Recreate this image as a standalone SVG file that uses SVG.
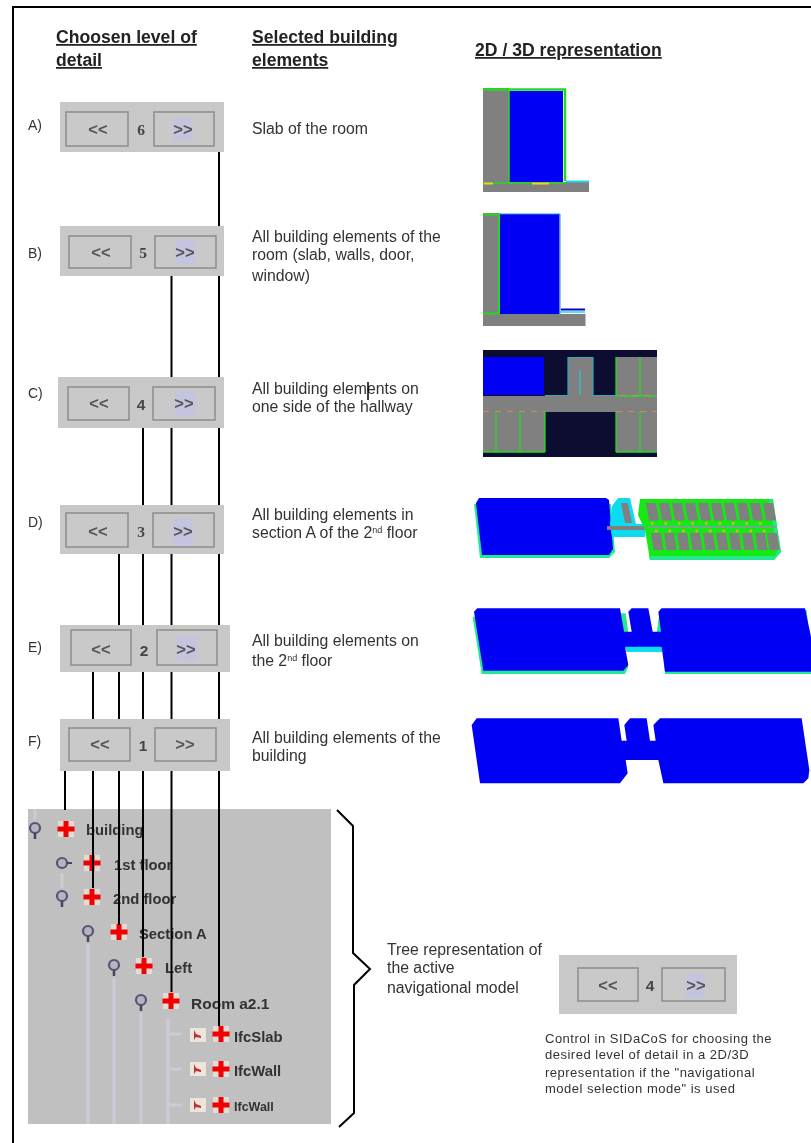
<svg xmlns="http://www.w3.org/2000/svg" width="811" height="1143" viewBox="0 0 811 1143">
<style>
text{font-family:"Liberation Sans",Arial,sans-serif;fill:#333}
.h{font-size:17.600px;font-weight:bold;fill:#222;text-decoration:underline}
.b{font-size:15.800px}
.s{font-size:13px;letter-spacing:.5px}
.l{font-size:14px}
.n{font-size:15.500px;font-weight:bold;fill:#444;text-anchor:middle}
.a{font-size:16.500px;font-weight:bold;fill:#555;text-anchor:middle}
.t{font-size:14.800px;font-weight:bold;fill:#333}
.panel{fill:#c8c8c8}
.btn{fill:#c9c9c9;stroke:#8c8c8c;stroke-width:1.500}
.foc{fill:#c4c4de}
.con{stroke:#000;stroke-width:2;fill:none}
.br{stroke:#000;stroke-width:2;fill:none}
.blue{fill:#0000f5}
.grey{fill:#808080}
.green{stroke:#1fdc1f;fill:none}
.tl{stroke:#cbcbd8;stroke-width:3;fill:none}
.pin{stroke:#55556e;stroke-width:2.200;fill:#b4b4c4}
</style>
<defs>
<filter id="soft" x="-2%" y="-2%" width="104%" height="104%"><feGaussianBlur stdDeviation="0.7"/></filter>
<g id="cross"><rect x="-8" y="-8" width="16" height="16" fill="#e4dcd4"/><path d="M-2.500-8h5v5.500h6v5h-6v5.500h-5v-5.500h-6v-5h6z" fill="#f00000"/></g>
<g id="icon"><rect x="-8" y="-7" width="16" height="14" fill="#eee4dc"/><path d="M-4-5l2 4 5 2v2l-5-1-2 3z" fill="#b83030"/></g>
<g id="pin"><circle r="5" cy="-1" class="pin"/><path d="M0 4v6" stroke="#45455e" stroke-width="2.500"/></g>
<path id="gu" d="M0 0h10l3 17.500h-10z" fill="#808080"/>
<path id="gl" d="M0 0h10l2.500 17h-10z" fill="#808080"/>
</defs>
<g filter="url(#soft)">
<path id="frame" d="M13 1143V7H811" fill="none" stroke="#000" stroke-width="2"/>
<g id="headings">
<text class="h" x="56" y="43">Choosen level of</text>
<text class="h" x="56" y="66">detail</text>
<text class="h" x="252" y="43">Selected building</text>
<text class="h" x="252" y="66">elements</text>
<text class="h" x="475" y="56">2D / 3D representation</text>
</g>
<g id="node-a">
<text class="l" x="28" y="130">A)</text>
<rect class="panel" x="60" y="102" width="164" height="50"/>
<rect class="btn" x="66" y="112" width="62" height="34"/><rect class="btn" x="154" y="112" width="60" height="34"/>
<rect class="foc" x="173" y="118" width="20" height="23"/>
<text class="a" x="98" y="135">&lt;&lt;</text><text class="n" x="141" y="135" style="font-family:'Liberation Serif',serif">6</text><text class="a" x="183" y="135">&gt;&gt;</text>
<text class="b" x="252" y="134">Slab of the room</text>
<rect class="grey" x="483" y="88" width="26" height="104"/><rect class="grey" x="483" y="182" width="106" height="10"/>
<rect class="blue" x="509" y="91" width="54" height="91"/>
<path class="green" stroke-width="2.500" d="M483 89.500H565V181"/><path class="green" stroke-width="1.500" d="M509 91V183M483 183H566"/>
<path stroke="#f0d020" stroke-width="2" d="M484 183.500h9M532 183.500h17"/>
<path stroke="#20d8e8" stroke-width="2" d="M566 181.500h23"/>
</g>
<g id="node-b">
<text class="l" x="28" y="258">B)</text>
<rect class="panel" x="60" y="226" width="164" height="50"/>
<rect class="btn" x="69" y="236" width="62" height="32"/><rect class="btn" x="155" y="236" width="61" height="32"/>
<rect class="foc" x="176" y="240" width="19" height="24"/>
<text class="a" x="101" y="258">&lt;&lt;</text><text class="n" x="143" y="258" style="font-family:'Liberation Serif',serif">5</text><text class="a" x="185" y="258">&gt;&gt;</text>
<text class="b" x="252" y="242">All building elements of the</text>
<text class="b" x="252" y="260">room (slab, walls, door,</text>
<text class="b" x="252" y="281">window)</text>
<rect class="grey" x="483" y="213" width="16" height="113"/><rect class="grey" x="483" y="314" width="102.500" height="12"/>
<rect class="blue" x="499" y="214" width="60.500" height="100"/>
<path class="green" stroke-width="2" d="M483 214.500H499V314M483 313.500H500"/>
<path d="M499 214H560V314" fill="none" stroke="#2090d8" stroke-width="1"/>
<path stroke="#0000d0" stroke-width="2" d="M561 309.500h24"/><path stroke="#20d8e8" stroke-width="1.500" d="M560 312h25"/>
</g>
<g id="node-c">
<text class="l" x="28" y="398">C)</text>
<rect class="panel" x="58" y="377" width="166" height="51"/>
<rect class="btn" x="68" y="387" width="61" height="33"/><rect class="btn" x="153" y="387" width="62" height="33"/>
<rect class="foc" x="175" y="391" width="20" height="25"/>
<text class="a" x="99" y="409">&lt;&lt;</text><text class="n" x="141" y="410">4</text><text class="a" x="184" y="409">&gt;&gt;</text>
<text class="b" x="252" y="394">All building elements on</text>
<text class="b" x="252" y="412">one side of the hallway</text>
<path d="M368 382V400" stroke="#000" stroke-width="1.500"/>
<rect x="483" y="350" width="174" height="107" fill="#0b0c30"/>
<rect class="blue" x="483" y="357" width="61" height="38"/>
<path class="grey" d="M483 396H568V357H593V396H616V357H657V452H616V412H545V452H483Z"/>
<path d="M545 395.500H568V357.500H593V395.500H616" fill="none" stroke="#30a8b8" stroke-width="1.200"/>
<path class="green" stroke-width="1.300" d="M640 357V396M616 357V396M616 396H657M496 412V452M520 412V452M545 412V452M616 412V452M640 412V452M483 452H545M616 452H657"/>
<path stroke="#28c8d8" stroke-width="1.200" d="M580 370V395"/>
<path stroke="#c89048" stroke-width="1" stroke-dasharray="6 6" d="M483 411.500H545M616 411.500H657M620 395.500H657"/>
</g>
<g id="node-d">
<text class="l" x="28" y="527">D)</text>
<rect class="panel" x="60" y="505" width="164" height="49"/>
<rect class="btn" x="66" y="513" width="62" height="34"/><rect class="btn" x="153" y="513" width="61" height="34"/>
<rect class="foc" x="173" y="518" width="20" height="28"/>
<text class="a" x="98" y="537">&lt;&lt;</text><text class="n" x="141" y="537" style="font-family:'Liberation Serif',serif">3</text><text class="a" x="183" y="537">&gt;&gt;</text>
<text class="b" x="252" y="520">All building elements in</text>
<text class="b" x="252" y="538">section A of the 2<tspan font-size="9" dy="-5">nd</tspan><tspan dy="5"> floor</tspan></text>
<path d="M474 504L480 558H609L615 552L611 504Z" fill="#20e890"/>
<path class="blue" d="M476 503L479 498H606L609 500L613 549L609 555H482Z"/>
<path d="M610 524H645V537H612Z" fill="#10dcf0"/>
<path d="M612 506L618 498H630L636 524H610Z" fill="#10dcf0"/>
<path d="M621 503H628L632 523H625Z" fill="#808080"/>
<path d="M607 526H648V530H607Z" fill="#808080"/>
<path d="M640 499H773L781 552L774 560H650L645 530L638 515Z" fill="#14e814"/>
<path d="M772 499L781 552L774 560H650L649 556H775L777 552L769 499Z" fill="#20e890"/>
<use href="#gu" x="646" y="503"/><use href="#gu" x="659" y="503"/><use href="#gu" x="672" y="503"/><use href="#gu" x="685" y="503"/><use href="#gu" x="698" y="503"/><use href="#gu" x="711" y="503"/><use href="#gu" x="724" y="503"/><use href="#gu" x="737" y="503"/><use href="#gu" x="750" y="503"/><use href="#gu" x="763" y="503"/>
<use href="#gl" x="651" y="533"/><use href="#gl" x="664" y="533"/><use href="#gl" x="677" y="533"/><use href="#gl" x="690" y="533"/><use href="#gl" x="703" y="533"/><use href="#gl" x="716" y="533"/><use href="#gl" x="729" y="533"/><use href="#gl" x="742" y="533"/><use href="#gl" x="755" y="533"/><use href="#gl" x="767" y="533"/>
<path d="M648 527H776" stroke="#70a890" stroke-width="2"/>
<path stroke="#e8b020" stroke-width="2.500" stroke-dasharray="2.500 11" d="M651 523.500H772M655 531H776"/>
</g>
<g id="node-e">
<text class="l" x="28" y="652">E)</text>
<rect class="panel" x="60" y="625" width="170" height="47"/>
<rect class="btn" x="71" y="630" width="60" height="35"/><rect class="btn" x="157" y="630" width="60" height="35"/>
<rect class="foc" x="177" y="636" width="20" height="25"/>
<text class="a" x="101" y="655">&lt;&lt;</text><text class="n" x="144" y="656">2</text><text class="a" x="186" y="655">&gt;&gt;</text>
<text class="b" x="252" y="646">All building elements on</text>
<text class="b" x="252" y="666">the 2<tspan font-size="9" dy="-5">nd</tspan><tspan dy="5"> floor</tspan></text>
<g transform="translate(460 480) scale(.33333)">
<path d="M38 410L65 582H495L505 560L490 505H610L615 582H1053V530L1040 390H600L590 458H505L497 400Z" fill="#20e890"/>
<path d="M495 498H610V516H500Z" fill="#10dcf0"/>
<path class="blue" d="M42 395L52 385H480L492 455H515L505 395L515 385H565L578 455H603L595 395L605 385H1035L1053 470V575H615L605 500H495L505 555L490 572H70Z"/>
</g>
</g>
<g id="node-f">
<text class="l" x="28" y="746">F)</text>
<rect class="panel" x="60" y="719" width="170" height="52"/>
<rect class="btn" x="69" y="728" width="61" height="33"/><rect class="btn" x="155" y="728" width="61" height="33"/>
<text class="a" x="100" y="750">&lt;&lt;</text><text class="n" x="143" y="751">1</text><text class="a" x="185" y="750">&gt;&gt;</text>
<text class="b" x="252" y="743">All building elements of the</text>
<text class="b" x="252" y="761">building</text>
<g transform="translate(465 700) scale(.33333)">
<path class="blue" d="M20 75L35 55H460L470 122H485L478 75L495 55H545L555 122H572L565 75L585 55H1010L1033 210L1030 235L1015 250H595L580 180H482L488 220L465 250H45Z"/>
</g>
</g>
<g id="tree">
<rect x="28" y="809" width="303" height="315" fill="#c0c0c0"/>
<path class="tl" d="M35 809V820M62 873V888M88 944V1124M114 978V1124M141 1013V1124M168 1018V1124M168 1034H182M168 1069H182M168 1105H182"/>
<use href="#pin" x="35" y="829"/><use href="#pin" x="88" y="932"/><use href="#pin" x="62" y="897"/><use href="#pin" x="114" y="966"/><use href="#pin" x="141" y="1001"/>
<g><circle cx="62" cy="863" r="5" class="pin"/><path d="M67 863h5" stroke="#45455e" stroke-width="2"/></g>
<use href="#cross" x="66" y="829"/><use href="#cross" x="92" y="863"/><use href="#cross" x="92" y="897"/><use href="#cross" x="119" y="932"/><use href="#cross" x="144" y="966"/><use href="#cross" x="171" y="1001"/>
<use href="#icon" x="198" y="1035"/><use href="#icon" x="198" y="1069"/><use href="#icon" x="198" y="1105"/>
<use href="#cross" x="221" y="1034"/><use href="#cross" x="221" y="1069"/><use href="#cross" x="221" y="1105"/>
<text class="t" x="86" y="835">building</text>
<text class="t" x="114" y="870">1st floor</text>
<text class="t" x="113" y="904">2nd floor</text>
<text class="t" x="139" y="939">Section A</text>
<text class="t" x="165" y="973">Left</text>
<text class="t" x="191" y="1009" style="font-size:15.500px">Room a2.1</text>
<text class="t" x="234" y="1042">IfcSlab</text>
<text class="t" x="234" y="1076">IfcWall</text>
<text class="t" x="234" y="1111" style="font-size:12.500px">IfcWall</text>
</g>
<g id="connectors">
<path class="con" d="M219 152V226M219 276V377M219 428V505M219 554V625M219 672V719M219 771V1026"/>
<path class="con" d="M171.500 276V377M171.500 428V505M171.500 554V625M171.500 672V719M171.500 771V992"/>
<path class="con" d="M143 428V505M143 554V625M143 672V719M143 771V957"/>
<path class="con" d="M119 554V625M119 672V719M119 771V925"/>
<path class="con" d="M93 672V719M93 771V888"/>
<path class="con" d="M65 771V810"/>
</g>
<path id="brace" class="br" d="M337 810L353 826V953L370 969L354 985V1113L339 1127"/>
<g id="tree-note">
<text class="b" x="387" y="955">Tree representation of</text>
<text class="b" x="387" y="973">the active</text>
<text class="b" x="387" y="993">navigational model</text>
</g>
<g id="legend">
<rect class="panel" x="559" y="955" width="178" height="59"/>
<rect class="btn" x="578" y="968" width="60" height="33"/><rect class="btn" x="662" y="968" width="63" height="33"/>
<rect class="foc" x="686" y="974" width="19" height="24"/>
<text class="a" x="608" y="991">&lt;&lt;</text><text class="n" x="650" y="991">4</text><text class="a" x="696" y="991">&gt;&gt;</text>
<text class="s" x="545" y="1043">Control in SIDaCoS for choosing the</text>
<text class="s" x="545" y="1059">desired level of detail in a 2D/3D</text>
<text class="s" x="545" y="1077">representation if the "navigational</text>
<text class="s" x="545" y="1093">model selection mode" is used</text>
</g>
</g>
</svg>
